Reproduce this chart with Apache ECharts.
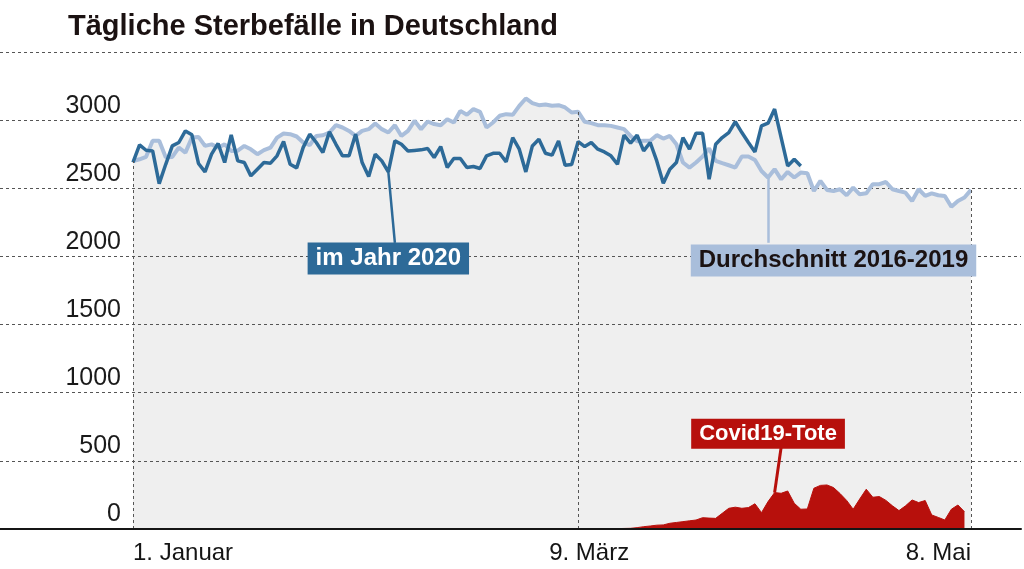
<!DOCTYPE html>
<html><head><meta charset="utf-8">
<script src="https://cdn.jsdelivr.net/npm/echarts@6/dist/echarts.min.js"></script>
<style>html,body{margin:0;padding:0;background:#fff}#c{width:1024px;height:569px}</style>
</head><body><div id="c"></div>
<script>
// Day categories: 1 Jan 2020 .. 8 May 2020
const monthLengths = [31, 29, 31, 30, 8];
const dates = [];
monthLengths.forEach((len, m) => { for (let d = 1; d <= len; d++) dates.push(d + '.' + (m + 1) + '.'); });

const tickIndex = [0, 68, 128];
const tickLabels = ['1. Januar', '9. März', '8. Mai'];

// Daily deaths 2020 (1 Jan .. 12 Apr)
const deaths2020 = [2690,2818,2779,2774,2534,2676,2811,2836,2921,2892,
  2682,2620,2750,2829,2689,2892,2701,2689,2591,2640,
  2689,2684,2738,2843,2676,2650,2800,2897,2836,2762,
  2914,2823,2738,2738,2897,2689,2586,2750,2701,2620,
  2848,2823,2774,2778,2782,2792,2726,2806,2652,2718,
  2718,2652,2660,2645,2738,2757,2757,2694,2872,2787,
  2620,2811,2860,2757,2743,2848,2669,2674,2843,2806,
  2836,2787,2767,2738,2676,2890,2831,2890,2774,2836,
  2701,2537,2640,2689,2872,2787,2904,2904,2566,2823,
  2872,2909,2988,2909,2836,2767,2958,2978,3081,2872,
  2664,2713,2664];

// Average 2016-2019 (1 Jan .. 8 May)
const avg2016_2019 = [2700,2713,2731,2848,2848,2727,2730,2799,2762,2872,
  2877,2811,2822,2799,2822,2774,2776,2811,2786,2750,
  2780,2799,2872,2902,2897,2880,2836,2816,2884,2889,
  2909,2963,2946,2921,2884,2921,2934,2976,2934,2909,
  2963,2884,2921,2995,2934,2990,2971,2963,3007,2983,
  3068,3040,3081,3061,2946,2983,3032,3044,3039,3105,
  3159,3125,3110,3115,3105,3110,3093,3056,3061,2988,
  2978,2963,2963,2958,2946,2934,2884,2845,2848,2848,
  2890,2865,2884,2823,2689,2652,2689,2733,2792,2701,
  2684,2669,2652,2733,2733,2708,2627,2579,2640,2566,
  2620,2579,2615,2610,2480,2554,2488,2480,2493,2449,
  2505,2456,2463,2530,2530,2546,2493,2480,2468,2407,
  2493,2444,2463,2449,2444,2365,2407,2432,2488];

// Covid-19 deaths (9 Mar .. 7 May)
const covidStartIndex = 68;
const covid19 = [0,0,1,2,2,3,3,4,5,10,
  17,22,28,30,42,48,54,60,66,83,
  80,78,115,152,160,152,157,185,120,201,
  267,262,279,189,145,147,299,320,323,304,
  260,210,145,220,292,233,238,210,170,135,
  170,213,194,209,103,85,66,145,176,127];

const labels = { jahr: 'im Jahr 2020', avg: 'Durchschnitt 2016-2019', covid: 'Covid19-Tote' };

const FONT = '"Liberation Sans", Arial, sans-serif';
const fillColor = '#efefef';
const darkBlue = '#2d6a98';
const lightBlue = '#a9bedb';
const red = '#b7100c';
const gridColor = '#555';

const covidFull = dates.map((_, i) => {
  const k = i - covidStartIndex;
  return (k >= 0 && k < covid19.length) ? covid19[k] : null;
});

const tickStyles = [
  { align: 'left' },
  { align: 'center', padding: [0, 0, 0, 22] },
  { align: 'right', padding: [0, 0, 0, 0] }
];
const xData = dates.map((d, i) => {
  const k = tickIndex.indexOf(i);
  return k < 0 ? d : { value: d, textStyle: tickStyles[k] };
});

const noSym = ['none', 'none'];
function boxLabel(text, bg, fg, size) {
  return {
    show: true, position: 'inside', formatter: text,
    backgroundColor: bg, color: fg, fontFamily: FONT, fontWeight: 'bold',
    fontSize: size, lineHeight: size, padding: [4, 8, 4, 8]
  };
}

const chart = echarts.init(document.getElementById('c'));
chart.setOption({
  animation: false,
  title: {
    text: 'Tägliche Sterbefälle in Deutschland', left: 63, top: 7,
    textStyle: { fontFamily: FONT, fontWeight: 'bold', fontSize: 29, color: '#1b1212' }
  },
  grid: [
    { left: 133, right: 53, top: 52, bottom: 40 },
    { left: 0, right: 3, top: 52, bottom: 40 }
  ],
  xAxis: [
    {
      type: 'category', gridIndex: 0, data: xData, boundaryGap: false,
      axisLine: { show: false }, axisTick: { show: false }, splitLine: { show: false },
      axisLabel: {
        interval: (i) => tickIndex.indexOf(i) >= 0,
        formatter: (v, i) => { const k = tickIndex.indexOf(i); return k < 0 ? '' : tickLabels[k]; },
        margin: 12, fontSize: 24, color: '#151515', fontFamily: FONT
      }
    },
    {
      type: 'value', gridIndex: 1, min: 0, max: 1, z: 6,
      axisLine: { show: true, lineStyle: { color: '#151515', width: 2 } },
      axisTick: { show: false }, axisLabel: { show: false }, splitLine: { show: false }
    }
  ],
  yAxis: [
    { type: 'value', gridIndex: 0, min: 0, max: 3500, interval: 500, show: false, splitLine: { show: false } },
    {
      type: 'value', gridIndex: 1, min: 0, max: 3500, interval: 500, z: 1.5,
      axisLine: { show: false }, axisTick: { show: false },
      axisLabel: {
        inside: true, align: 'right', margin: 121, verticalAlign: 'bottom', padding: [0, 0, 2, 0],
        fontSize: 25, color: '#1a1a1a', fontFamily: FONT,
        formatter: (v) => v > 3000 ? '' : String(v)
      },
      splitLine: { lineStyle: { type: [3, 3], color: gridColor, width: 1 } }
    }
  ],
  series: [
    {
      type: 'line', xAxisIndex: 0, yAxisIndex: 0, data: avg2016_2019, symbol: 'none', silent: true,
      lineStyle: { width: 0 }, areaStyle: { color: fillColor, opacity: 1 }, z: 1
    },
    {
      type: 'line', xAxisIndex: 0, yAxisIndex: 0, data: deaths2020, symbol: 'none', silent: true,
      lineStyle: { width: 0 }, areaStyle: { color: fillColor, opacity: 1 }, z: 1
    },
    {
      type: 'line', xAxisIndex: 0, yAxisIndex: 0, data: covidFull, symbol: 'none', silent: true,
      connectNulls: false,
      lineStyle: { width: 1, color: red }, itemStyle: { color: red },
      areaStyle: { color: red, opacity: 1 }, z: 2,
      markLine: {
        silent: true, symbol: noSym, label: { show: false },
        lineStyle: { type: 'solid', color: red, width: 3 },
        data: [[{ coord: [98, covid19[98 - covidStartIndex]] }, { coord: [99, 600] }]]
      },
      markPoint: {
        silent: true,
        data: [{ coord: [97, 698], symbol: 'rect', symbolSize: 1, itemStyle: { color: 'rgba(0,0,0,0)' },
          label: boxLabel(labels.covid, red, '#fff', 22) }]
      }
    },
    {
      type: 'line', xAxisIndex: 0, yAxisIndex: 0, data: avg2016_2019, symbol: 'none', silent: true,
      lineStyle: { width: 4, color: lightBlue }, itemStyle: { color: lightBlue }, z: 3,
      markLine: {
        silent: true, symbol: noSym, label: { show: false },
        data: tickIndex.map(i => [
          { coord: [i, 0], lineStyle: { type: [3, 3], color: gridColor, width: 1 } },
          { coord: [i, Math.max(avg2016_2019[i], deaths2020[i] || 0)] }
        ]).concat([[
          { coord: [97, avg2016_2019[97]], lineStyle: { type: 'solid', color: lightBlue, width: 2.5 } },
          { coord: [97, 2100] }
        ]])
      },
      markPoint: {
        silent: true,
        data: [{ coord: [107, 1970], symbol: 'rect', symbolSize: 1, itemStyle: { color: 'rgba(0,0,0,0)' },
          label: boxLabel(labels.avg, lightBlue, '#1b1212', 24) }]
      }
    },
    {
      type: 'line', xAxisIndex: 0, yAxisIndex: 0, data: deaths2020, symbol: 'none', silent: true,
      lineStyle: { width: 3.5, color: darkBlue }, itemStyle: { color: darkBlue }, z: 4,
      markLine: {
        silent: true, symbol: noSym, label: { show: false },
        lineStyle: { type: 'solid', color: darkBlue, width: 2.5 },
        data: [[{ coord: [39, deaths2020[39]] }, { coord: [40, 2100] }]]
      },
      markPoint: {
        silent: true,
        data: [{ coord: [39, 1985], symbol: 'rect', symbolSize: 1, itemStyle: { color: 'rgba(0,0,0,0)' },
          label: boxLabel(labels.jahr, darkBlue, '#fff', 24) }]
      }
    }
  ]
});
</script>
</body></html>
